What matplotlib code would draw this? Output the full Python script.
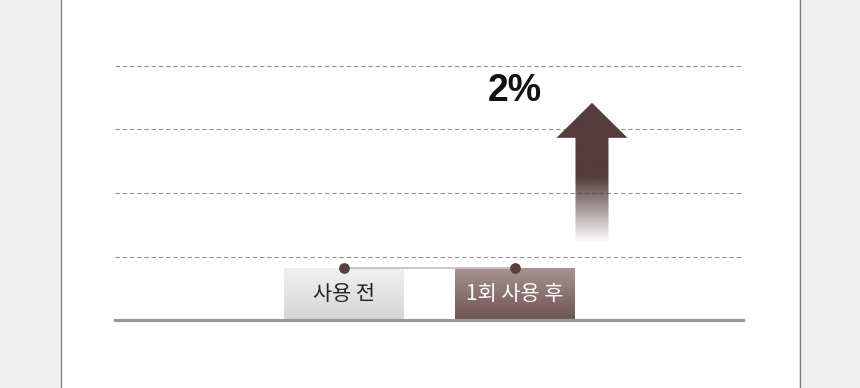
import numpy as np
import matplotlib
matplotlib.use('Agg')
import matplotlib.pyplot as plt
from matplotlib.patches import FancyArrow
from matplotlib.lines import Line2D

plt.rcParams['font.family'] = ['Noto Sans CJK KR', 'DejaVu Sans']

# data
categories = ['사용 전', '1회 사용 후']
values = [0.82, 0.82]
change_label = '2%'
grid_ticks = [1, 2, 3, 4]

# colours (top, bottom) of each bar gradient
bar_grad = [('#f1f1f1', '#d5d5d5'), ('#a99394', '#6e5254')]
label_colors = ['#222222', '#ffffff']
dark = '#563c3e'


def hex_rgb(h):
	return np.array(matplotlib.colors.to_rgb(h))


fig = plt.figure(figsize=(8.6, 3.88), dpi=100, facecolor='#efefef')

# white panel with thin side borders
fig.add_artist(plt.Rectangle((62/860, 0), (799-62)/860, 1, transform=fig.transFigure,
	facecolor='white', edgecolor='none', zorder=-10))
for xp in (61/860, 799.5/860):
	fig.add_artist(Line2D([xp, xp], [0, 1], transform=fig.transFigure, color='#7a7a7a', lw=0.9, zorder=-9))

ax = fig.add_axes([115/860, 68/388, 628/860, 285.75/388])
ax.set_facecolor('none')
x = np.arange(len(categories))

# dashed grid + baseline
for t in grid_ticks:
	ax.axhline(t, color='#929292', lw=0.8, ls=(0, (4, 2.5)), zorder=1)
ax.axhline(0, color='#999999', lw=2.3, zorder=3, clip_on=False)

# gradient bars
bars = ax.bar(x, values, width=0.70, color='none', edgecolor='none', zorder=2)
for b, (top, bot) in zip(bars, bar_grad):
	x0, y0 = b.get_x(), b.get_y()
	w, h = b.get_width(), b.get_height()
	t = np.linspace(0, 1, 100)[:, None]
	img = hex_rgb(bot)[None, None, :] * (1 - t[..., None]) + hex_rgb(top)[None, None, :] * t[..., None]
	img = np.repeat(img, 2, axis=1)
	im = ax.imshow(img, extent=[x0, x0 + w, y0, y0 + h], origin='lower', aspect='auto', zorder=2)
	im.set_clip_path(b)

for xi, v, lab, c in zip(x, values, categories, label_colors):
	ax.text(xi, v / 2, lab, ha='center', va='center', fontsize=15, color=c, zorder=4)

# connecting line and dots
ax.plot(x, values, color='#c9bcbc', lw=1.3, zorder=4)
ax.scatter(x, values, s=60, color='#5a3f42', zorder=5, linewidths=0)

# gradient arrow
ax_x, a_y0, a_y1 = 1.45, 1.21, 3.42
arrow = FancyArrow(ax_x, a_y0, 0, a_y1 - a_y0, width=0.193, head_width=0.415, head_length=0.551,
	length_includes_head=True, facecolor='none', edgecolor='none')
ax.add_patch(arrow)
n = 200
yy = np.linspace(a_y0, a_y1, n)
alpha = np.clip((yy - a_y0) / (2.24 - a_y0), 0, 1)
rgba = np.zeros((n, 2, 4))
rgba[..., :3] = hex_rgb(dark)
rgba[..., 3] = alpha[:, None]
im = ax.imshow(rgba, extent=[ax_x - 0.21, ax_x + 0.21, a_y0, a_y1], origin='lower', aspect='auto', zorder=3)
im.set_clip_path(arrow)

ax.text(1.0, 3.6, change_label, ha='center', va='center', fontsize=27, fontweight='bold',
	family=['Liberation Sans', 'DejaVu Sans'], color='#111111', zorder=5)

ax.set_xlim(-1.339, 2.333)
ax.set_ylim(0, 4.5)
ax.set_xticks([])
ax.set_yticks([])
for s in ax.spines.values():
	s.set_visible(False)

fig.savefig('out.png', dpi=100, facecolor=fig.get_facecolor())
